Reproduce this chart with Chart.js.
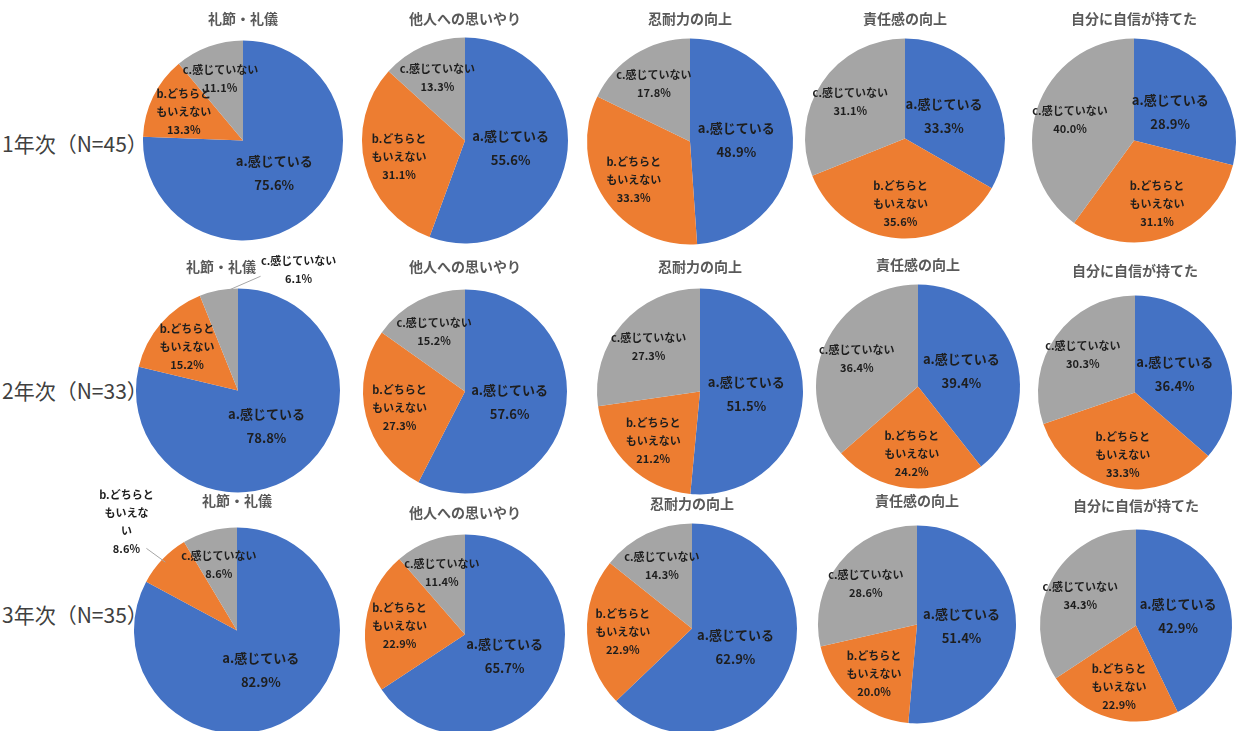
<!DOCTYPE html>
<html>
<head>
<meta charset="utf-8">
<script src="https://cdn.jsdelivr.net/npm/chart.js"></script>
<style>
  body { margin: 0; width: 1236px; height: 731px; overflow: hidden; background: #fff; position: relative; }
  canvas { position: absolute; }
  .row-label { position: absolute; left: 2px; font: 21px "Noto Sans CJK JP", sans-serif; color: #404040; transform: translateY(-50%); white-space: nowrap; }
</style>
</head>
<body>
<script>
const titles = ['礼節・礼儀', '他人への思いやり', '忍耐力の向上', '責任感の向上', '自分に自信が持てた']
const rowLabels = ['1年次（N=45）', '2年次（N=33）', '3年次（N=35）']
const categories = ['a.感じている', 'b.どちらともいえない', 'c.感じていない']

// a / b / c の割合 (%)
const year1 = [[75.6, 13.3, 11.1], [55.6, 31.1, 13.3], [48.9, 33.3, 17.8], [33.3, 35.6, 31.1], [28.9, 31.1, 40.0]]
const year2 = [[78.8, 15.2, 6.1], [57.6, 27.3, 15.2], [51.5, 21.2, 27.3], [39.4, 24.2, 36.4], [36.4, 33.3, 30.3]]
const year3 = [[82.9, 8.6, 8.6], [65.7, 22.9, 11.4], [62.9, 22.9, 14.3], [51.4, 20.0, 28.6], [42.9, 22.9, 34.3]]
const years = [year1, year2, year3]

const colors = ['#4472C4', '#ED7D31', '#A5A5A5']

// layout of the grid (pie centre, radius, title line)
const rowY = [143, 390, 614]
const centersX = [[243, 465, 690, 905, 1134], [238, 465, 700, 918, 1135], [237, 465, 692, 917, 1136]]
const centersY = [[140, 140, 141, 138, 140], [390, 391, 391, 386, 392], [630, 634, 628, 624, 625]]
const radii = [[100, 103, 103, 100, 102], [102, 102, 103, 102, 97], [103, 100, 105, 99, 96]]
const titleY = [[18, 18, 18, 18, 18], [266, 266, 266, 264, 270], [500, 512, 503, 500, 505]]
const titleShift = { '1-0': -17 }

// labels pulled out of small slices
const outside = {
    '1-0': { index: 2, dx: 80, dy: -20 },
    '2-0': { index: 1, dx: -36, dy: -38, lines: ['b.どちらと', 'もいえな', 'い'] }
}

const FONT = '"Noto Sans CJK JP", sans-serif'

function labelLines(i) {
    if (i === 0) return ['a.感じている']
    if (i === 1) return ['b.どちらと', 'もいえない']
    return ['c.感じていない']
}

const sliceLabels = {
    id: 'sliceLabels',
    afterLayout(chart, args, opts) {
        // nudge the title sideways without moving the pie
        if (opts.titleShift && chart.titleBlock) {
            chart.titleBlock.left += opts.titleShift
            chart.titleBlock.right += opts.titleShift
        }
    },
    afterDatasetsDraw(chart, args, opts) {
        const ctx = chart.ctx
        const meta = chart.getDatasetMeta(0)
        const values = chart.data.datasets[0].data
        ctx.save()
        ctx.textAlign = 'center'
        ctx.textBaseline = 'middle'
        ctx.fillStyle = '#1e1e1e'
        meta.data.forEach((arc, i) => {
            const p = arc.getProps(['x', 'y', 'startAngle', 'endAngle', 'outerRadius'], true)
            const mid = (p.startAngle + p.endAngle) / 2
            const out = opts.outside && opts.outside.index === i ? opts.outside : null
            let lines = (out && out.lines) ? out.lines.slice() : labelLines(i)
            lines.push(values[i].toFixed(1) + '%')
            const size = i === 0 ? 13 : 11
            const lh = i === 0 ? 24 : 18
            ctx.font = 'bold ' + size + 'px ' + FONT
            let lx, ly
            if (out) {
                const ex = p.x + Math.cos(mid) * p.outerRadius
                const ey = p.y + Math.sin(mid) * p.outerRadius
                lx = ex + out.dx
                ly = ey + out.dy
                const edgeX = out.dx > 0 ? lx - 38 : lx + 20
                const edgeY = out.dx > 0 ? ly + 6 : ly + (lines.length - 1) * lh / 2
                ctx.strokeStyle = '#a6a6a6'
                ctx.lineWidth = 1
                ctx.beginPath()
                ctx.moveTo(ex - Math.cos(mid) * 4, ey - Math.sin(mid) * 4)
                ctx.lineTo(edgeX, edgeY)
                ctx.stroke()
            } else {
                const f = i === 0 ? 0.45 : 0.66
                lx = p.x + Math.cos(mid) * p.outerRadius * f
                ly = p.y + Math.sin(mid) * p.outerRadius * f
            }
            const top = ly - (lines.length - 1) * lh / 2
            lines.forEach((t, k) => ctx.fillText(t, lx, top + k * lh))
        })
        ctx.restore()
    }
}

const W = 280
const PAD_TOP = 40               // room above the title for pulled-out labels
const TITLE_MID = PAD_TOP + 8.4  // size 14 * 1.2 / 2
const TITLE_BOX = PAD_TOP + 22.8 // 14 * 1.2 + 6 padding

years.forEach((rows, r) => {
    const lab = document.createElement('div')
    lab.className = 'row-label'
    lab.style.top = rowY[r] + 'px'
    lab.textContent = rowLabels[r]
    document.body.appendChild(lab)

    rows.forEach((vals, c) => {
        const key = r + '-' + c
        const cx = centersX[r][c], cy = centersY[r][c]
        const top = titleY[r][c] - TITLE_MID
        const H = Math.round(2 * (cy - top) - TITLE_BOX)
        const canvas = document.createElement('canvas')
        canvas.width = W
        canvas.height = H
        canvas.style.left = (cx - W / 2) + 'px'
        canvas.style.top = top + 'px'
        document.body.appendChild(canvas)

        new Chart(canvas, {
            type: 'pie',
            data: {
                labels: categories,
                datasets: [{
                    data: vals,
                    backgroundColor: colors,
                    borderWidth: 0,
                    radius: radii[r][c]
                }]
            },
            options: {
                responsive: false,
                animation: false,
                devicePixelRatio: 1,
                plugins: {
                    legend: { display: false },
                    tooltip: { enabled: false },
                    title: {
                        display: true,
                        text: titles[c],
                        color: '#595959',
                        font: { family: FONT, size: 14, weight: 'bold', lineHeight: 1.2 },
                        padding: { top: PAD_TOP, bottom: 6 }
                    },
                    sliceLabels: {
                        outside: outside[key] || null,
                        titleShift: titleShift[key] || 0
                    }
                }
            },
            plugins: [sliceLabels]
        })
    })
})
</script>
</body>
</html>
